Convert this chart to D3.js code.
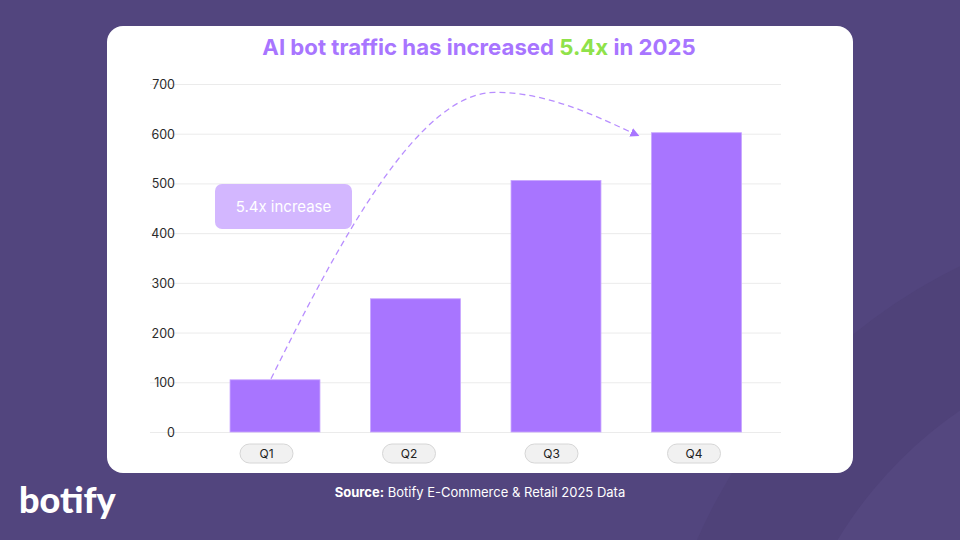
<!DOCTYPE html>
<html lang="en">
<head>
    <meta charset="UTF-8">
    <title>AI bot traffic 2025</title>
    <script src="https://d3js.org/d3.v7.min.js"></script>
    <style type="text/css">
        body { margin: 0; background: #52457e; }
        svg { display: block; }
        text { font-family: Inter, "Noto Sans", sans-serif; }
    </style>
</head>
<body>
    <div id="chartArea"></div>
    <script type="text/javascript">
        var quarters = ['Q1', 'Q2', 'Q3', 'Q4'];
        var traffic = [105, 268, 506, 602];
        var yTicks = [0, 100, 200, 300, 400, 500, 600, 700];

        var w = 960, h = 540;

        var svg = d3.select('#chartArea').append('svg')
            .attr('width', w)
            .attr('height', h);

        // background with faint circles
        svg.append('rect').attr('width', w).attr('height', h).attr('fill', '#52457e');
        svg.append('circle').attr('cx', 1200).attr('cy', 760).attr('r', 549).attr('fill', '#4f4279');
        svg.append('circle').attr('cx', 1200).attr('cy', 760).attr('r', 424).attr('fill', '#54477f');

        // white card
        svg.append('rect')
            .attr('x', 107).attr('y', 26)
            .attr('width', 746).attr('height', 447)
            .attr('rx', 16)
            .attr('fill', '#ffffff');

        // title
        var title = svg.append('text')
            .attr('x', 479).attr('y', 55)
            .attr('text-anchor', 'middle')
            .style('font-size', '22.2px')
            .style('font-weight', 700)
            .attr('fill', '#a875ff');
        title.append('tspan').text('AI bot traffic has increased ');
        title.append('tspan').attr('fill', '#8fe24a').text('5.4x');
        title.append('tspan').text(' in 2025');

        var x = d3.scaleBand()
            .domain(quarters)
            .range([204.75, 766.75])
            .paddingInner(0.36)
            .paddingOuter(0.18);

        // category pills sit on a slightly narrower spacing than the bars
        var xLabel = d3.scalePoint()
            .domain(quarters)
            .range([266.5, 694]);

        var y = d3.scaleLinear()
            .domain([0, 700])
            .range([432, 84]);

        // gridlines
        var gy = svg.append('g')
            .attr('transform', 'translate(150,0)')
            .call(d3.axisLeft(y).tickValues(yTicks).tickSize(-(781 - 150)).tickFormat(''));
        gy.select('.domain').remove();
        gy.selectAll('.tick line').attr('stroke', '#ebebeb');

        // y labels
        svg.append('g').selectAll('text')
            .data(yTicks)
            .enter()
            .append('text')
            .attr('x', 175)
            .attr('y', function (d) { return y(d) + 5; })
            .attr('text-anchor', 'end')
            .style('font-size', '12.5px')
            .attr('fill', '#2b2b2b')
            .text(function (d) { return d; });

        // bars
        svg.selectAll('rect.bar')
            .data(traffic)
            .enter()
            .append('rect')
            .attr('class', 'bar')
            .attr('x', function (d, i) { return x(quarters[i]); })
            .attr('y', function (d) { return y(d); })
            .attr('width', x.bandwidth())
            .attr('height', function (d) { return y(0) - y(d); })
            .attr('fill', '#a875ff')
            .attr('stroke', '#c8a5ff')
            .attr('stroke-width', 0.8);

        // x label pills
        var pills = svg.append('g').selectAll('g')
            .data(quarters)
            .enter()
            .append('g')
            .attr('transform', function (d) { return 'translate(' + xLabel(d) + ',453.5)'; });
        pills.append('rect')
            .attr('x', -26.5).attr('y', -9.5)
            .attr('width', 53).attr('height', 19)
            .attr('rx', 9.5)
            .attr('fill', '#f1f1f1')
            .attr('stroke', '#d6d6d6');
        pills.append('text')
            .attr('y', 4.5)
            .attr('text-anchor', 'middle')
            .style('font-size', '12px')
            .attr('fill', '#222')
            .text(function (d) { return d; });

        // dashed growth arrow from Q1 to Q4
        var defs = svg.append('defs');
        defs.append('marker')
            .attr('id', 'arrow')
            .attr('viewBox', '0 0 10 10')
            .attr('refX', 9).attr('refY', 5)
            .attr('markerWidth', 9).attr('markerHeight', 9)
            .attr('markerUnits', 'userSpaceOnUse')
            .attr('orient', 'auto')
            .append('path')
            .attr('d', 'M0,0 L10,5 L0,10 Z')
            .attr('fill', '#a875ff');

        var x0 = x('Q1') + x.bandwidth() / 2 - 4, y0 = y(traffic[0]) - 1;
        var x1 = x('Q4') - 13, y1 = y(traffic[3]) + 3;
        var px = 497, py = y(683);
        var p = d3.path();
        p.moveTo(x0, y0);
        p.bezierCurveTo(340, 240, 420, py - 3, px, py);
        p.bezierCurveTo(550, py, 600, 118, x1, y1);
        svg.append('path')
            .attr('d', p.toString())
            .attr('fill', 'none')
            .attr('stroke', '#b88eff')
            .attr('stroke-width', 1.3)
            .attr('stroke-dasharray', '6,4')
            .attr('marker-end', 'url(#arrow)');

        // annotation box
        svg.append('rect')
            .attr('x', 215).attr('y', 184)
            .attr('width', 137).attr('height', 45)
            .attr('rx', 7)
            .attr('fill', '#d3b7ff');
        svg.append('text')
            .attr('x', 283.5).attr('y', 212)
            .attr('text-anchor', 'middle')
            .style('font-size', '15px')
            .attr('fill', '#ffffff')
            .text('5.4x increase');

        // source line
        var src = svg.append('text')
            .attr('x', 480).attr('y', 497)
            .attr('text-anchor', 'middle')
            .style('font-size', '13px')
            .attr('fill', '#ffffff');
        src.append('tspan').style('font-weight', 700).text('Source:');
        src.append('tspan').text(' Botify E-Commerce & Retail 2025 Data');

        // logo
        svg.append('text')
            .attr('x', 19).attr('y', 513)
            .style('font-family', 'Lato, "Noto Sans", sans-serif')
            .style('font-size', '36px')
            .style('font-weight', 900)
            .attr('fill', '#ffffff')
            .text('botify');
    </script>
</body>
</html>
